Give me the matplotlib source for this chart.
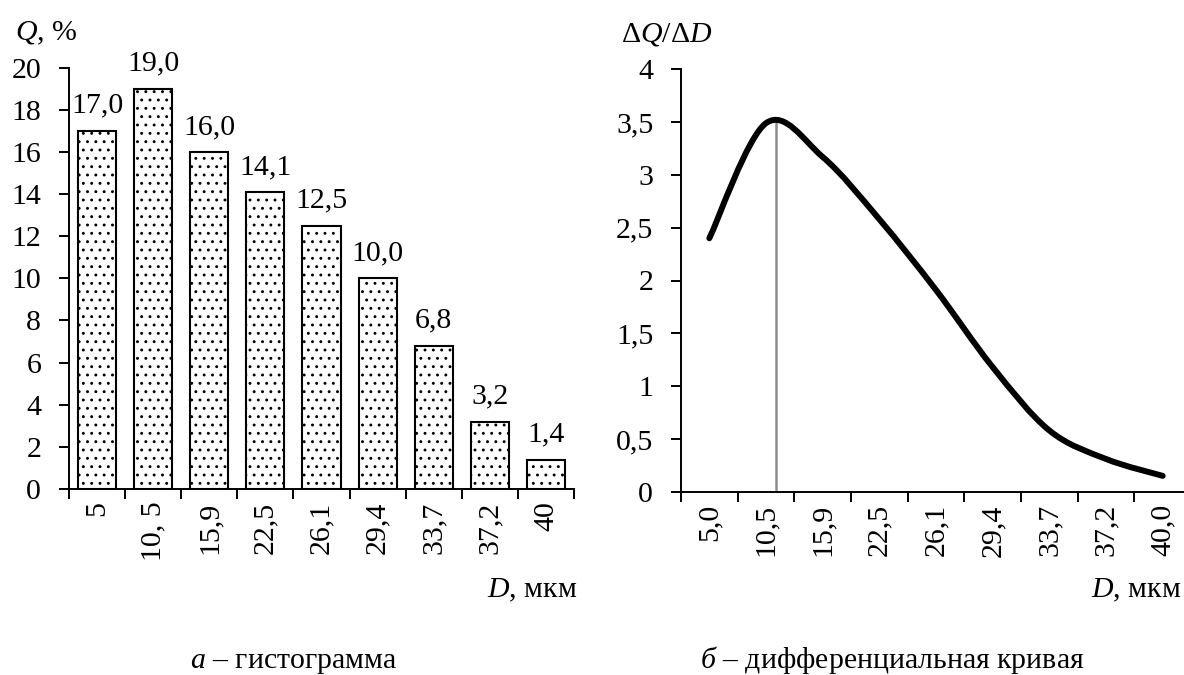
import numpy as np
import matplotlib
matplotlib.use("Agg")
import matplotlib.pyplot as plt
from matplotlib.path import Path
from matplotlib.patches import PathPatch
from matplotlib.bezier import BezierSegment

# ---------------------------------------------------------
# Данные
# ---------------------------------------------------------
razmery_a = ["5", "10, 5", "15,9", "22,5", "26,1", "29,4", "33,7", "37,2", "40"]
dolya_q = [17.0, 19.0, 16.0, 14.1, 12.5, 10.0, 6.8, 3.2, 1.4]
podpisi_q = ["17,0", "19,0", "16,0", "14,1", "12,5", "10,0", "6,8", "3,2", "1,4"]

razmery_b = ["5,0", "10,5", "15,9", "22,5", "26,1", "29,4", "33,7", "37,2", "40,0"]
dq_dd = [2.40, 3.49, 3.17, 2.58, 1.91, 1.18, 0.58, 0.31, 0.15]

y_tiki_a = [0, 2, 4, 6, 8, 10, 12, 14, 16, 18, 20]
y_tiki_b = [0, 0.5, 1, 1.5, 2, 2.5, 3, 3.5, 4]
y_podpisi_b = ["0", "0,5", "1", "1,5", "2", "2,5", "3", "3,5", "4"]

# ---------------------------------------------------------
# Оформление
# ---------------------------------------------------------
plt.rcParams['font.family'] = ['Liberation Serif', 'DejaVu Serif']
plt.rcParams['mathtext.fontset'] = 'custom'
plt.rcParams['mathtext.rm'] = 'Liberation Serif'
plt.rcParams['mathtext.it'] = 'Liberation Serif:italic'
plt.rcParams['hatch.linewidth'] = 0.9
plt.rcParams['hatch.color'] = 'black'

FS = 21.5
W, H = 1184, 675

fig = plt.figure(figsize=(W / 100, H / 100), dpi=100)


def oformit_osi(ax):
    for s in ['top', 'right']:
        ax.spines[s].set_visible(False)
    for s in ['left', 'bottom']:
        ax.spines[s].set_linewidth(1.4)
    n = len(razmery_a)
    ax.set_xlim(-0.5, n - 0.5)
    # большие деления — границы категорий, малые — подписи
    ax.set_xticks(np.arange(n + 1) - 0.5)
    ax.set_xticklabels([])
    ax.tick_params(axis='x', which='major', direction='out', length=7, width=1.4)
    ax.tick_params(axis='x', which='minor', length=0, pad=9, labelsize=FS, labelrotation=90)
    ax.tick_params(axis='y', direction='out', length=7, width=1.4, pad=13, labelsize=FS)


# =========================================================
# а – гистограмма
# =========================================================
ax1 = fig.add_axes([69 / W, 1 - 489 / H, 505 / W, (489 - 67.7) / H])
oformit_osi(ax1)
x = np.arange(len(razmery_a))
bary = ax1.bar(x, dolya_q, width=0.68, color='white', edgecolor='black',
               linewidth=1.5, hatch='..')
for xi, v, t in zip(x, dolya_q, podpisi_q):
    ax1.annotate(t, (xi, v), xytext=(0, 13), textcoords='offset points',
                 ha='center', va='baseline', fontsize=FS)
ax1.set_ylim(0, 20)
ax1.set_yticks(y_tiki_a)
ax1.set_yticklabels([str(v) for v in y_tiki_a])
ax1.set_xticks(x, minor=True)
ax1.set_xticklabels(razmery_a, minor=True, va='top', ha='center')

# =========================================================
# б – дифференциальная кривая
# =========================================================
ax2 = fig.add_axes([681 / W, 1 - 491.7 / H, 510 / W, (491.7 - 69.3) / H])
oformit_osi(ax2)
ax2.spines['bottom'].set_clip_on(False)
ax2.set_ylim(0, 4)
ax2.set_yticks(y_tiki_b)
ax2.set_yticklabels(y_podpisi_b)
xb = np.arange(len(razmery_b))
ax2.set_xticks(xb, minor=True)
ax2.set_xticklabels(razmery_b, minor=True, va='top', ha='center')

# сглаженная линия (как в Excel): кривые Безье через точки
pts = np.column_stack([xb, dq_dd]).astype(float)
n = len(pts)
verts = [pts[0]]
codes = [Path.MOVETO]
segs = []
for i in range(n - 1):
    p_prev = pts[max(i - 1, 0)]
    p_next2 = pts[min(i + 2, n - 1)]
    c1 = pts[i] + (pts[i + 1] - p_prev) / 6
    c2 = pts[i + 1] - (p_next2 - pts[i]) / 6
    verts += [c1, c2, pts[i + 1]]
    codes += [Path.CURVE4] * 3
    segs.append(BezierSegment(np.array([pts[i], c1, c2, pts[i + 1]])))
krivaya = PathPatch(Path(verts, codes), fill=False, edgecolor='black',
                    linewidth=4.3, capstyle='round', joinstyle='round', zorder=3)
ax2.add_patch(krivaya)

# вертикаль через максимум кривой
tt = np.linspace(0, 1, 400)
kand = np.vstack([s.point_at_t(tt) for s in segs])
pik = kand[np.argmax(kand[:, 1])]
ax2.plot([pik[0], pik[0]], [0, pik[1]], color='#8c8c8c', linewidth=1.8, zorder=2)

# ---------------------------------------------------------
# Подписи осей и рисунков
# ---------------------------------------------------------
fig.text(15 / W, 1 - 40 / H, r'$\mathit{Q}$, %', fontsize=FS, ha='left', va='baseline')
fig.text(712 / W, 1 - 41 / H, r'Δ$\mathit{Q}$/Δ$\mathit{D}$', fontsize=FS, ha='right', va='baseline')
fig.text(577 / W, 1 - 597 / H, r'$\mathit{D}$, мкм', fontsize=FS, ha='right', va='baseline')
fig.text(1181 / W, 1 - 597 / H, r'$\mathit{D}$, мкм', fontsize=FS, ha='right', va='baseline')
fig.text(190 / W, 1 - 668 / H, r'$\mathit{а}$ – гистограмма', fontsize=FS, ha='left', va='baseline')
fig.text(700 / W, 1 - 668 / H, r'$\mathit{б}$ – дифференциальная кривая', fontsize=FS,
         ha='left', va='baseline')

fig.savefig('out.png', dpi=100)
